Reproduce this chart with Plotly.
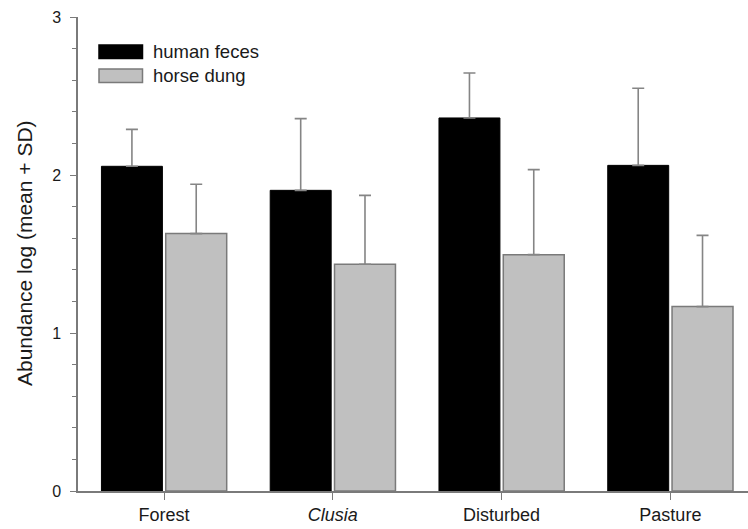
import plotly.graph_objects as go

# Habitat categories and abundance summaries (log scale, mean + SD)
habitats = ["Forest", "<i>Clusia</i>", "Disturbed", "Pasture"]
human_mean = [2.055, 1.903, 2.361, 2.061]
human_sd = [0.234, 0.454, 0.285, 0.488]
horse_mean = [1.629, 1.435, 1.496, 1.167]
horse_sd = [0.312, 0.436, 0.538, 0.451]
series_names = ["human feces", "horse dung"]

y_ticks = [0, 1, 2, 3]
y_title = "Abundance log (mean + SD)"

FONT = "Arial, Liberation Sans, sans-serif"
AXIS_GREY = "#7a7a7a"
ERR_GREY = "#858585"
TEXT = "#1a1a1a"

x_idx = list(range(len(habitats)))

fig = go.Figure()
fig.add_trace(go.Bar(
    x=x_idx, y=human_mean, name=series_names[0],
    marker=dict(color="#000000", line=dict(color="#000000", width=1)),
    error_y=dict(type="data", array=human_sd, arrayminus=[0] * len(human_sd),
                 symmetric=False, color=ERR_GREY, thickness=1.6, width=6),
    showlegend=False,
))
fig.add_trace(go.Bar(
    x=x_idx, y=horse_mean, name=series_names[1],
    marker=dict(color="#c0c0c0", line=dict(color="#7a7a7a", width=1.5)),
    error_y=dict(type="data", array=horse_sd, arrayminus=[0] * len(horse_sd),
                 symmetric=False, color=ERR_GREY, thickness=1.6, width=6),
    showlegend=False,
))

# Plot-area geometry in pixels, used for the hand-drawn legend and y title
L, R, T, B = 78, 0, 17, 38
W, H = 748 - L - R, 529 - T - B


def px(xp):
    return (xp - L) / W


def py(yp):
    return (529 - B - yp) / H


# Legend: wide swatches with labels
swatches = [("#000000", "#000000", 45, 58.5), ("#c0c0c0", "#7a7a7a", 69, 82.5)]
for (fill, edge, y0, y1), label in zip(swatches, series_names):
    fig.add_shape(type="rect", xref="paper", yref="paper",
                  x0=px(99), x1=px(142.5), y0=py(y1), y1=py(y0),
                  fillcolor=fill, line=dict(color=edge, width=1.5))
    fig.add_annotation(xref="paper", yref="paper", x=px(151), y=py((y0 + y1) / 2),
                       text=label, showarrow=False, xanchor="left", yanchor="middle",
                       font=dict(family=FONT, size=18.5, color=TEXT))

# Vertical axis title
fig.add_annotation(xref="paper", yref="paper", x=px(24), y=py(253),
                   text=y_title, textangle=-90, showarrow=False,
                   xanchor="center", yanchor="middle",
                   font=dict(family=FONT, size=21, color=TEXT))

fig.update_layout(
    width=748, height=529,
    margin=dict(l=L, r=R, t=T, b=B),
    paper_bgcolor="white", plot_bgcolor="white",
    barmode="group", bargap=0.238, bargroupgap=0.052,
    font=dict(family=FONT, color=TEXT),
)
fig.update_xaxes(
    range=[-0.51, 3.46],
    tickmode="array", tickvals=x_idx, ticktext=habitats,
    showline=True, linecolor=AXIS_GREY, linewidth=1.6,
    ticks="outside", ticklen=7, tickwidth=1.2, tickcolor=AXIS_GREY,
    tickfont=dict(family=FONT, size=18, color=TEXT),
    showgrid=False, zeroline=False,
)
fig.update_yaxes(
    range=[0, 3],
    tickmode="array", tickvals=y_ticks,
    showline=True, linecolor=AXIS_GREY, linewidth=1.5,
    ticks="outside", ticklen=6, tickwidth=1.2, tickcolor=AXIS_GREY,
    minor=dict(dtick=0.2, ticks="outside", ticklen=4, tickwidth=1.2, tickcolor=AXIS_GREY),
    tickfont=dict(family=FONT, size=16, color=TEXT),
    ticklabelstandoff=6,
    showgrid=False, zeroline=False,
)

fig.write_html("out.html")
